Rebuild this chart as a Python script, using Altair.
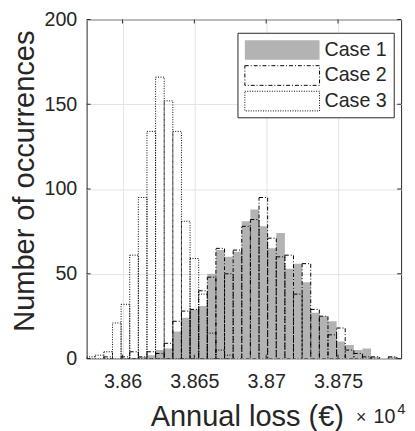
import altair as alt
import pandas as pd

# ---------------- data ----------------
CASES = ["Case 1", "Case 2", "Case 3"]
BIN_START = 3.8575      # first bin edge, in units of 10^4 EUR
BIN_WIDTH = 0.0006      # bin width, in units of 10^4 EUR

# counts per bin (bin k spans BIN_START + k*BIN_WIDTH ... + BIN_WIDTH)
CASE1 = [0, 0, 0, 0, 0, 0, 1, 2, 5, 6, 16, 24, 29, 31, 50, 64, 60, 63, 81,
         88, 78, 65, 74, 53, 56, 45, 27, 25, 22, 10, 8, 5, 6, 1, 0, 1, 0]
CASE2 = [0, 0, 1, 0, 1, 4, 1, 4, 3, 9, 22, 28, 29, 40, 48, 65, 50, 64, 78,
         82, 95, 71, 60, 61, 38, 56, 29, 25, 14, 18, 5, 3, 1, 1, 0, 1, 0]
CASE3 = [1, 2, 4, 21, 32, 61, 95, 134, 166, 152, 134, 81, 59, 38, 15, 5, 2,
         0, 0, 0, 0, 0, 0, 0, 0, 0, 0, 0, 0, 0, 0, 0, 0, 0, 0, 0, 0]

X_TICKS = [3.86, 3.865, 3.87, 3.875]
Y_TICKS = [0, 50, 100, 150, 200]
X_DOMAIN = [3.8575, 3.87939]
Y_DOMAIN = [0, 200]

# ---------------- tidy table ----------------
rows = []
for name, counts in zip(CASES, [CASE1, CASE2, CASE3]):
    for k, c in enumerate(counts):
        if c > 0:
            rows.append({"case": name,
                         "lo": BIN_START + k * BIN_WIDTH,
                         "hi": BIN_START + (k + 1) * BIN_WIDTH,
                         "count": c})
df = pd.DataFrame(rows)

FONT = "Liberation Sans"
TXT = "#262626"
W, H = 320, 345

xscale = alt.Scale(domain=X_DOMAIN, nice=False, zero=False)
yscale = alt.Scale(domain=Y_DOMAIN, nice=False)

xaxis = alt.Axis(values=X_TICKS, format=".3~f", title="Annual loss (€)",
                 labelFont=FONT, labelFontSize=20, labelColor=TXT,
                 labelPadding=13, ticks=False, domain=False,
                 grid=True, gridColor="#e3e3e3", gridWidth=1,
                 titleFont=FONT, titleFontSize=29.5, titleFontWeight="normal",
                 titleColor=TXT, titlePadding=12, titleX=163)
yaxis = alt.Axis(values=Y_TICKS, title="Number of occurrences",
                 labelFont=FONT, labelFontSize=20, labelColor=TXT,
                 labelPadding=10, ticks=False, domain=False,
                 grid=True, gridColor="#e3e3e3", gridWidth=1,
                 titleFont=FONT, titleFontSize=29.5, titleFontWeight="normal",
                 titleColor=TXT, titlePadding=5, titleY=164)

X = alt.X("lo:Q", scale=xscale, axis=xaxis)
Y = alt.Y("count:Q", scale=yscale, axis=yaxis)

base = alt.Chart(df).encode(x=X, x2="hi:Q", y=Y, y2=alt.datum(0))

case1 = base.transform_filter(alt.datum.case == "Case 1").mark_rect(
    fill="#b3b3b3", clip=True)
case2 = base.transform_filter(alt.datum.case == "Case 2").mark_rect(
    fill="transparent", stroke="black", strokeWidth=1,
    strokeDash=[4, 2, 1, 2], clip=True)
case3 = base.transform_filter(alt.datum.case == "Case 3").mark_rect(
    fill="transparent", stroke="black", strokeWidth=1,
    strokeDash=[1, 1.5], clip=True)

# inward tick marks on all four sides (MATLAB box style)
xt = pd.DataFrame({"lo": X_TICKS})
yt = pd.DataFrame({"count": Y_TICKS})
tick_style = dict(color=TXT, strokeWidth=1)
xt_bot = alt.Chart(xt).mark_rule(**tick_style).encode(
    x=X, y=alt.value(H), y2=alt.value(H - 4))
xt_top = alt.Chart(xt).mark_rule(**tick_style).encode(
    x=X, y=alt.value(0), y2=alt.value(4))
yt_left = alt.Chart(yt).mark_rule(**tick_style).encode(
    y=Y, x=alt.value(0), x2=alt.value(4))
yt_right = alt.Chart(yt).mark_rule(**tick_style).encode(
    y=Y, x=alt.value(W), x2=alt.value(W - 4))

# exponent label  (x10^4)
one = pd.DataFrame({"a": [0]})
times = alt.Chart(one).mark_text(text="×", font=FONT, fontSize=18, color=TXT,
                                 align="left", baseline="alphabetic").encode(
    x=alt.value(274), y=alt.value(411))
ten = alt.Chart(one).mark_text(text="10", font=FONT, fontSize=20, color=TXT,
                               align="left", baseline="alphabetic").encode(
    x=alt.value(292), y=alt.value(411))
exp4 = alt.Chart(one).mark_text(text="4", font=FONT, fontSize=15, color=TXT,
                                align="left", baseline="alphabetic").encode(
    x=alt.value(316), y=alt.value(401))

# legend (drawn as a boxed key, top right)
leg_box = alt.Chart(one).mark_rect(fill="white", stroke=TXT, strokeWidth=1).encode(
    x=alt.value(154), x2=alt.value(313), y=alt.value(14), y2=alt.value(100))
sw_x0, sw_x1 = 161, 237
rows_y = [21, 47, 73]
sw_styles = [dict(fill="#b3b3b3"),
             dict(fill="white", stroke="black", strokeWidth=1, strokeDash=[4, 2, 1, 2]),
             dict(fill="white", stroke="black", strokeWidth=1, strokeDash=[1, 1.5])]
legend_layers = [leg_box]
for name, ry, st in zip(CASES, rows_y, sw_styles):
    legend_layers.append(alt.Chart(one).mark_rect(**st).encode(
        x=alt.value(sw_x0), x2=alt.value(sw_x1), y=alt.value(ry), y2=alt.value(ry + 20)))
    legend_layers.append(alt.Chart(one).mark_text(
        text=name, font=FONT, fontSize=20, color=TXT, align="left",
        baseline="middle").encode(x=alt.value(242), y=alt.value(ry + 10)))

chart = alt.layer(case1, case2, case3, xt_bot, xt_top, yt_left, yt_right,
                  times, ten, exp4, *legend_layers).properties(
    width=W, height=H,
    autosize=alt.AutoSizeParams(type="none"),
    padding={"left": 80, "top": 8, "right": 6, "bottom": 70},
    background="white",
).configure_view(stroke=TXT, strokeWidth=1)

chart.save("out.html", embed_options={"renderer": "svg", "actions": False})
